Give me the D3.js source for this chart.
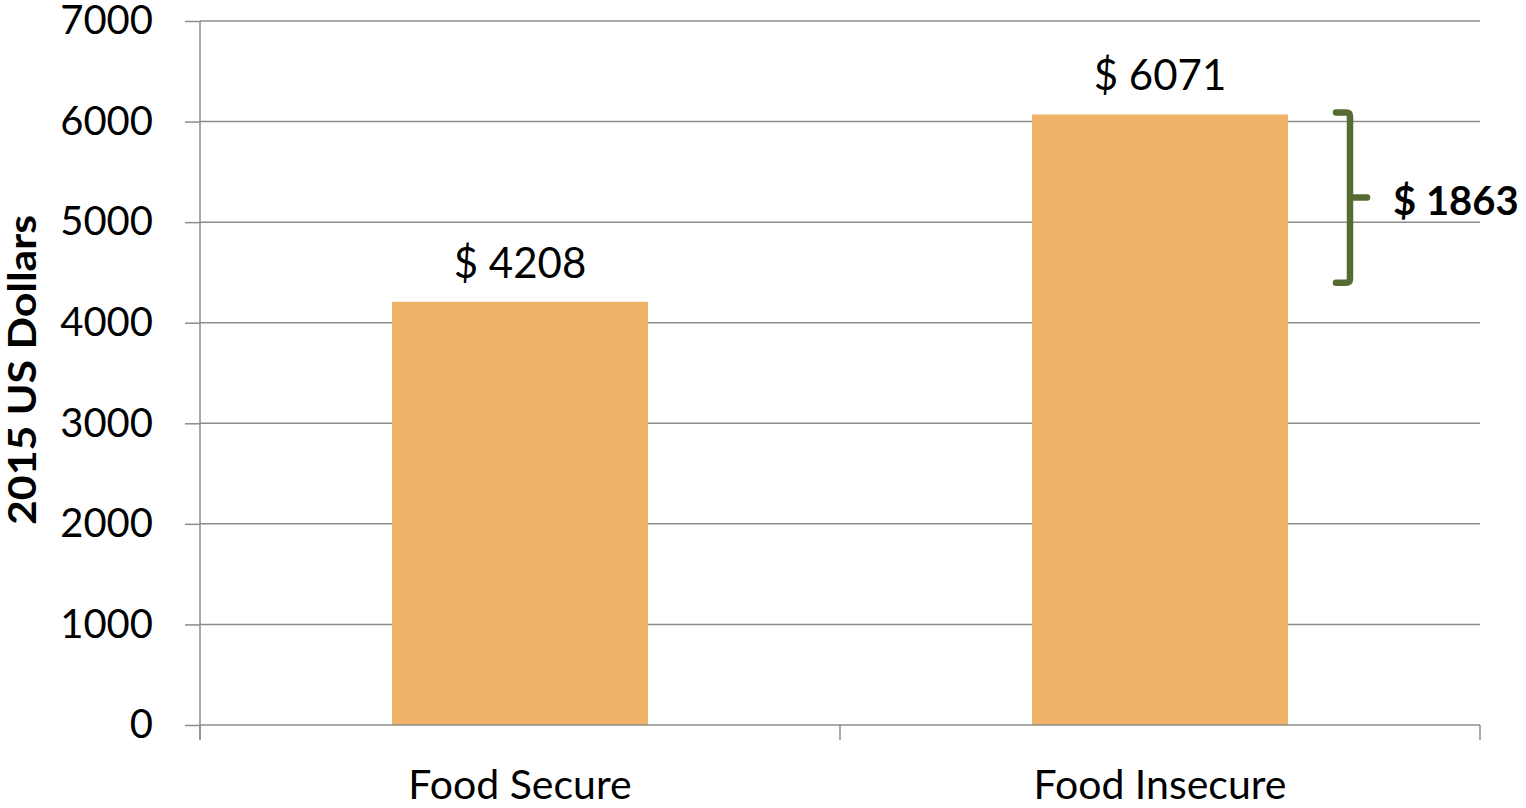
<!DOCTYPE html>
<html><head><meta charset="utf-8">
<script src="https://cdn.jsdelivr.net/npm/d3@7"></script>
<style>body{margin:0;background:#fff}svg{display:block}text{font-family:Lato,"Open Sans",sans-serif}</style>
</head><body>
<svg id="c" width="1526" height="808"></svg>
<script>
const categories = ["Food Secure", "Food Insecure"];
const values = [4208, 6071];
const valueLabels = ["$ 4208", "$ 6071"];
const differenceLabel = "$ 1863";
const yTicks = [0, 1000, 2000, 3000, 4000, 5000, 6000, 7000];
const yTitle = "2015 US Dollars";

(function () {
const svg = d3.select("#c");
const pL = 200, pR = 1480, pT = 21, pB = 725;
const x = d3.scaleBand().domain(categories).range([pL, pR]).paddingInner(0.6).paddingOuter(0.3);
const xb = d3.scaleBand().domain(categories).range([pL, pR]).padding(0);
const y = d3.scaleLinear().domain([0, 7000]).range([pB, pT]);

// gridlines
svg.append("g").selectAll("line").data(yTicks.slice(1)).join("line")
  .attr("x1", pL).attr("x2", pR).attr("y1", d => y(d)).attr("y2", d => y(d))
  .attr("stroke", "#8c8c8c").attr("stroke-width", 1.5);

// bars
svg.append("g").selectAll("rect").data(values).join("rect")
  .attr("x", (d, i) => x(categories[i])).attr("width", x.bandwidth())
  .attr("y", d => y(d)).attr("height", d => y(0) - y(d)).attr("fill", "#f0b266");

// y axis
const ya = svg.append("g").attr("transform", `translate(${pL},0)`)
  .call(d3.axisLeft(y).tickValues(yTicks).tickSize(15).tickPadding(32).tickFormat(d3.format("d")));
ya.select(".domain").attr("stroke", "#8c8c8c").attr("stroke-width", 1.5).attr("d", `M0,${pT}V${pB + 15}`);
ya.selectAll(".tick line").attr("stroke", "#8c8c8c").attr("stroke-width", 1.5);
ya.selectAll(".tick text").attr("font-size", 40).attr("fill", "#000").attr("font-family", "Lato, sans-serif");

// x axis
const xa = svg.append("g").attr("transform", `translate(0,${pB})`);
xa.append("line").attr("x1", pL).attr("x2", pR).attr("stroke", "#8c8c8c").attr("stroke-width", 1.5);
const xTickPos = [pL, ...categories.map(c => xb(c) + xb.bandwidth())];
xa.selectAll(".xt").data(xTickPos).join("line").attr("class", "xt")
  .attr("x1", d => d).attr("x2", d => d).attr("y1", 0).attr("y2", 15)
  .attr("stroke", "#8c8c8c").attr("stroke-width", 1.5);
xa.selectAll("text").data(categories).join("text")
  .attr("x", d => x(d) + x.bandwidth() / 2).attr("y", 74)
  .attr("text-anchor", "middle").attr("font-size", 41).attr("fill", "#000").text(d => d);

// value labels
svg.append("g").selectAll("text").data(values).join("text")
  .attr("x", (d, i) => x(categories[i]) + x.bandwidth() / 2).attr("y", d => y(d) - 24)
  .attr("text-anchor", "middle").attr("font-size", 42).attr("fill", "#000")
  .text((d, i) => valueLabels[i]);

// y title
svg.append("text").attr("transform", "translate(36,370) rotate(-90)")
  .attr("text-anchor", "middle").attr("font-size", 39).attr("font-weight", "bold")
  .attr("textLength", 310).attr("lengthAdjust", "spacingAndGlyphs").text(yTitle);

// bracket
const bx = 1350, yt = y(values[1]) - 2, ybt = y(values[0]) - 19, ym = (yt + ybt) / 2;
svg.append("path")
  .attr("d", `M${bx - 14},${yt} H${bx - 4} Q${bx},${yt} ${bx},${yt + 4} V${ybt - 4} Q${bx},${ybt} ${bx - 4},${ybt} H${bx - 14} M${bx},${ym} H${bx + 17}`)
  .attr("fill", "none").attr("stroke", "#556b2f").attr("stroke-width", 6.5).attr("stroke-linecap", "round");
svg.append("text").attr("x", 1393).attr("y", ym + 17).attr("font-size", 40).attr("font-weight", "bold").text(differenceLabel);
})();
</script>
</body></html>
